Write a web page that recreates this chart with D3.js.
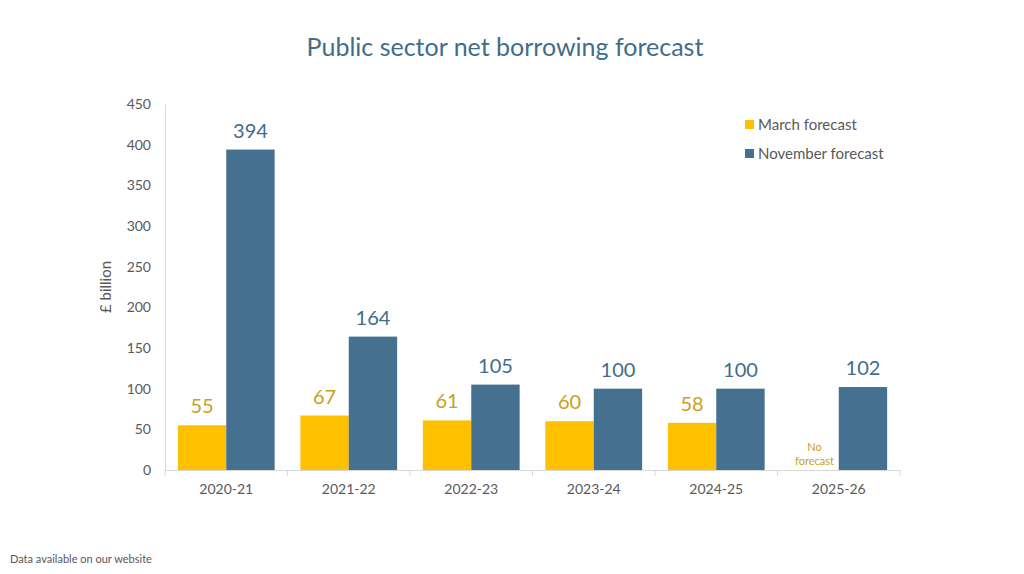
<!DOCTYPE html>
<html><head><meta charset="utf-8">
<script src="https://cdn.jsdelivr.net/npm/d3@7"></script>
<style>body{margin:0;background:#fff;font-family:Lato,"Open Sans",sans-serif;}</style>
</head><body>
<svg id="chart" width="1024" height="574"></svg>
<script>
const years = ["2020-21", "2021-22", "2022-23", "2023-24", "2024-25", "2025-26"];
const march = [55, 67, 61, 60, 58, null];
const november = [394, 164, 105, 100, 100, 102];
const yTicks = [0, 50, 100, 150, 200, 250, 300, 350, 400, 450];

const svg = d3.select("#chart");
const marchColor = "#ffc000", novColor = "#46708f";

let x0 = d3.scaleBand().domain(years).range([165, 900]);
let y = d3.scaleLinear().domain([0, 450]).range([470, 104]);

svg.append("text").attr("x", 505).attr("y", 56).attr("text-anchor", "middle")
    .style("font-size", "25px").style("fill", "#3f6d8c").text("Public sector net borrowing forecast");

// y axis
let yAxis = svg.append("g").attr("transform", "translate(165,0)")
    .call(d3.axisLeft(y).tickValues(yTicks).tickSize(0).tickPadding(14));
yAxis.select(".domain").style("stroke", "#d9d9d9");
yAxis.selectAll("text").style("font-size", "14px").style("fill", "#595959").style("font-family", "Lato");

// x axis
let xAxis = svg.append("g").attr("transform", "translate(0,470)")
    .call(d3.axisBottom(x0).tickSize(0).tickPadding(14));
xAxis.select(".domain").style("stroke", "#d9d9d9");
xAxis.selectAll("text").style("font-size", "14px").style("fill", "#595959").style("font-family", "Lato");
svg.selectAll(".xsep").data(d3.range(years.length + 1)).enter().append("line")
    .attr("x1", d => 165 + d * x0.step()).attr("x2", d => 165 + d * x0.step())
    .attr("y1", 470).attr("y2", 476).style("stroke", "#d9d9d9");

svg.append("text").attr("transform", "translate(111,287) rotate(-90)").attr("text-anchor", "middle")
    .style("font-size", "15px").style("fill", "#595959").text("£ billion");

let bw = x0.bandwidth() * 0.395;
years.forEach(function (yr, i) {
    let cx = x0(yr) + x0.bandwidth() / 2;
    if (march[i] != null) {
        svg.append("rect").attr("x", cx - bw).attr("y", y(march[i])).attr("width", bw)
            .attr("height", y(0) - y(march[i])).style("fill", marchColor);
        svg.append("text").attr("x", cx - bw / 2).attr("y", y(march[i]) - 12).attr("text-anchor", "middle")
            .style("font-size", "20px").style("fill", "#c9a01c").text(march[i]);
    } else {
        svg.append("text").attr("x", cx - bw / 2).attr("y", 451).attr("text-anchor", "middle")
            .style("font-size", "11px").style("fill", "#c9a01c").text("No");
        svg.append("text").attr("x", cx - bw / 2).attr("y", 465).attr("text-anchor", "middle")
            .style("font-size", "11px").style("fill", "#c9a01c").text("forecast");
    }
    svg.append("rect").attr("x", cx).attr("y", y(november[i])).attr("width", bw)
        .attr("height", y(0) - y(november[i])).style("fill", novColor);
    svg.append("text").attr("x", cx + bw / 2).attr("y", y(november[i]) - 12).attr("text-anchor", "middle")
        .style("font-size", "20px").style("fill", "#3f6d8c").text(november[i]);
});

// legend
[["March forecast", marchColor], ["November forecast", novColor]].forEach(function (d, i) {
    svg.append("rect").attr("x", 745).attr("y", 120 + i * 29).attr("width", 9).attr("height", 9).style("fill", d[1]);
    svg.append("text").attr("x", 758).attr("y", 130 + i * 29).style("font-size", "15px")
        .style("fill", "#595959").text(d[0]);
});

svg.append("text").attr("x", 10).attr("y", 563).style("font-size", "11px").style("fill", "#595959")
    .text("Data available on our website");
</script>
</body></html>
